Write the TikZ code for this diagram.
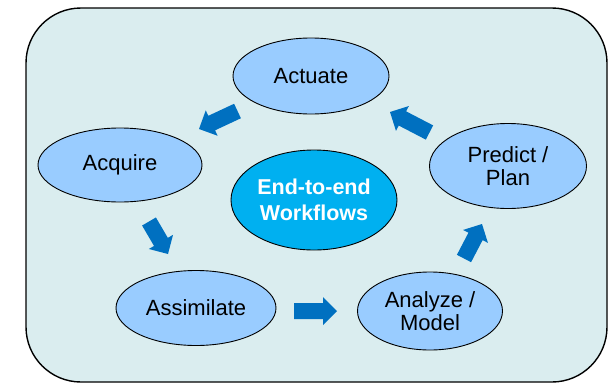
\documentclass[tikz,border=0pt]{standalone}
\usepackage{fontspec}
\setmainfont{Liberation Sans}
\usetikzlibrary{shapes.geometric,calc}
\definecolor{bgc}{RGB}{218,237,239}
\definecolor{ellc}{RGB}{153,204,255}
\definecolor{ctrc}{RGB}{0,176,240}
\definecolor{arrowc}{RGB}{0,112,192}
\newcommand\blockarrow[2]{%
  \coordinate (hb) at ($(#2)!14pt!(#1)$);
  \fill[arrowc] ($(#1)!8pt!-90:(#2)$) -- ($(hb)!8pt!-90:(#2)$) -- ($(hb)!14pt!-90:(#2)$)
    -- (#2) -- ($(hb)!14pt!90:(#2)$) -- ($(hb)!8pt!90:(#2)$) -- ($(#1)!8pt!90:(#2)$) -- cycle;}
\begin{document}
\begin{tikzpicture}[x=1pt,y=-1pt,
  stage/.style={ellipse, draw=black, line width=0.9pt, fill=ellc, inner sep=0pt,
    align=center, font=\fontsize{22}{23}\selectfont},
  hub/.style={ellipse, draw=black, line width=0.9pt, fill=ctrc, inner sep=0pt,
    align=center, text=white, font=\fontsize{21.5}{26}\selectfont\bfseries}]
\useasboundingbox (0,0) rectangle (608,383);
\draw[line width=1.4pt, fill=bgc, rounded corners=55pt] (26,8) rectangle (607,382);
\node[stage, minimum width=156pt, minimum height=76pt] (act) at (311,76) {Actuate};
\node[stage, minimum width=164pt, minimum height=74pt] (acq) at (120,165) {Acquire};
\node[hub, minimum width=166pt, minimum height=100pt] (ctr) at (314,200) {End-to-end\\Workflows};
\node[stage, minimum width=160pt, minimum height=75pt] (asm) at (196,308) {Assimilate};
\node[stage, minimum width=145pt, minimum height=78pt] (ana) at (430,311) {Analyze /\\Model};
\node[stage, minimum width=157pt, minimum height=85pt] (pre) at (508,166) {Predict /\\Plan};
\coordinate (t1) at (237.5,111); \coordinate (h1) at (199,129);
\coordinate (t2) at (149,221.5); \coordinate (h2) at (168,254);
\coordinate (t3) at (294,311);   \coordinate (h3) at (337,311);
\coordinate (t4) at (464,258.5); \coordinate (h4) at (482,224);
\coordinate (t5) at (429.5,132.5); \coordinate (h5) at (390,112);
\blockarrow{t1}{h1}
\blockarrow{t2}{h2}
\blockarrow{t3}{h3}
\blockarrow{t4}{h4}
\blockarrow{t5}{h5}
\end{tikzpicture}
\end{document}
